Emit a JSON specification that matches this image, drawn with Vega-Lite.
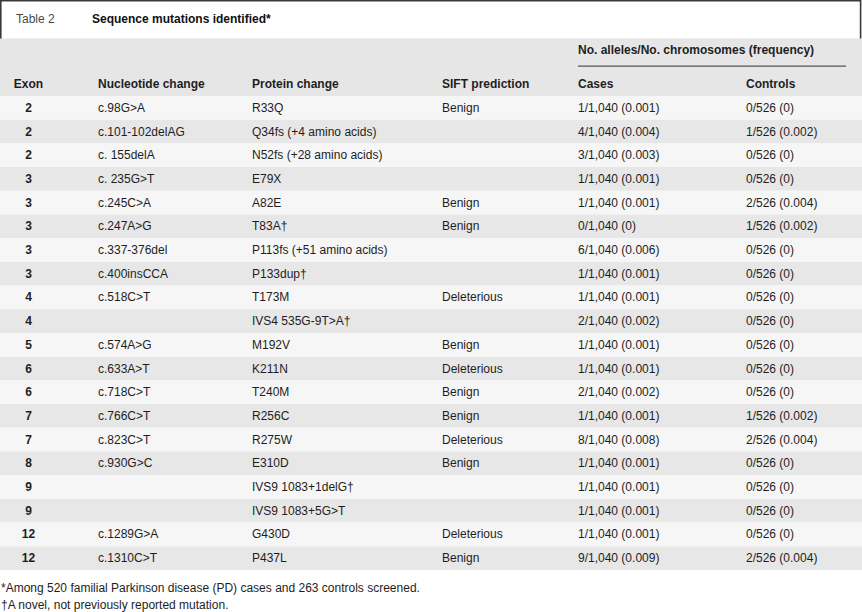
{
  "$schema": "https://vega.github.io/schema/vega-lite/v6.json",
  "width": 862,
  "height": 612,
  "padding": 0,
  "autosize": {"type": "none"},
  "background": "white",
  "config": {
    "view": {"stroke": null},
    "text": {"font": "Liberation Sans", "fontSize": 12, "color": "#1e1e1e", "baseline": "middle"}
  },
  "datasets": {
    "title": [{"sec": "title", "label": "Table 2", "caption": "Sequence mutations identified*"}],
    "group": [{"sec": "group", "label": "No. alleles/No. chromosomes (frequency)"}],
    "notes": [
      {"sec": "notes", "n": 1, "text": "*Among 520 familial Parkinson disease (PD) cases and 263 controls screened."},
      {"sec": "notes", "n": 2, "text": "†A novel, not previously reported mutation."}
    ],
    "rows": [
      {"row": 0, "exon": "Exon", "nuc": "Nucleotide change", "prot": "Protein change", "sift": "SIFT prediction", "cases": "Cases", "controls": "Controls"},
      {"row": 1, "exon": "2", "nuc": "c.98G>A", "prot": "R33Q", "sift": "Benign", "cases": "1/1,040 (0.001)", "controls": "0/526 (0)"},
      {"row": 2, "exon": "2", "nuc": "c.101-102delAG", "prot": "Q34fs (+4 amino acids)", "sift": "", "cases": "4/1,040 (0.004)", "controls": "1/526 (0.002)"},
      {"row": 3, "exon": "2", "nuc": "c. 155delA", "prot": "N52fs (+28 amino acids)", "sift": "", "cases": "3/1,040 (0.003)", "controls": "0/526 (0)"},
      {"row": 4, "exon": "3", "nuc": "c. 235G>T", "prot": "E79X", "sift": "", "cases": "1/1,040 (0.001)", "controls": "0/526 (0)"},
      {"row": 5, "exon": "3", "nuc": "c.245C>A", "prot": "A82E", "sift": "Benign", "cases": "1/1,040 (0.001)", "controls": "2/526 (0.004)"},
      {"row": 6, "exon": "3", "nuc": "c.247A>G", "prot": "T83A†", "sift": "Benign", "cases": "0/1,040 (0)", "controls": "1/526 (0.002)"},
      {"row": 7, "exon": "3", "nuc": "c.337-376del", "prot": "P113fs (+51 amino acids)", "sift": "", "cases": "6/1,040 (0.006)", "controls": "0/526 (0)"},
      {"row": 8, "exon": "3", "nuc": "c.400insCCA", "prot": "P133dup†", "sift": "", "cases": "1/1,040 (0.001)", "controls": "0/526 (0)"},
      {"row": 9, "exon": "4", "nuc": "c.518C>T", "prot": "T173M", "sift": "Deleterious", "cases": "1/1,040 (0.001)", "controls": "0/526 (0)"},
      {"row": 10, "exon": "4", "nuc": "", "prot": "IVS4 535G-9T>A†", "sift": "", "cases": "2/1,040 (0.002)", "controls": "0/526 (0)"},
      {"row": 11, "exon": "5", "nuc": "c.574A>G", "prot": "M192V", "sift": "Benign", "cases": "1/1,040 (0.001)", "controls": "0/526 (0)"},
      {"row": 12, "exon": "6", "nuc": "c.633A>T", "prot": "K211N", "sift": "Deleterious", "cases": "1/1,040 (0.001)", "controls": "0/526 (0)"},
      {"row": 13, "exon": "6", "nuc": "c.718C>T", "prot": "T240M", "sift": "Benign", "cases": "2/1,040 (0.002)", "controls": "0/526 (0)"},
      {"row": 14, "exon": "7", "nuc": "c.766C>T", "prot": "R256C", "sift": "Benign", "cases": "1/1,040 (0.001)", "controls": "1/526 (0.002)"},
      {"row": 15, "exon": "7", "nuc": "c.823C>T", "prot": "R275W", "sift": "Deleterious", "cases": "8/1,040 (0.008)", "controls": "2/526 (0.004)"},
      {"row": 16, "exon": "8", "nuc": "c.930G>C", "prot": "E310D", "sift": "Benign", "cases": "1/1,040 (0.001)", "controls": "0/526 (0)"},
      {"row": 17, "exon": "9", "nuc": "", "prot": "IVS9 1083+1delG†", "sift": "", "cases": "1/1,040 (0.001)", "controls": "0/526 (0)"},
      {"row": 18, "exon": "9", "nuc": "", "prot": "IVS9 1083+5G>T", "sift": "", "cases": "1/1,040 (0.001)", "controls": "0/526 (0)"},
      {"row": 19, "exon": "12", "nuc": "c.1289G>A", "prot": "G430D", "sift": "Deleterious", "cases": "1/1,040 (0.001)", "controls": "0/526 (0)"},
      {"row": 20, "exon": "12", "nuc": "c.1310C>T", "prot": "P437L", "sift": "Benign", "cases": "9/1,040 (0.009)", "controls": "2/526 (0.004)"}
    ]
  },
  "layer": [
    {
      "data": {"name": "title"},
      "mark": {"type": "rect", "fill": "white", "stroke": "#3a3a3a", "strokeWidth": 1.6},
      "encoding": {
        "x": {"field": "sec", "type": "nominal", "axis": null, "scale": {"type": "band", "domain": ["title"], "range": [0.8, 860.6], "paddingInner": 0, "paddingOuter": 0}},
        "y": {"field": "sec", "type": "nominal", "axis": null, "scale": {"type": "band", "domain": ["title"], "range": [0.8, 40], "paddingInner": 0, "paddingOuter": 0}}
      }
    },
    {
      "data": {"name": "title"},
      "mark": {"type": "text", "align": "left", "color": "#4a4a4a"},
      "encoding": {
        "x": {"field": "sec", "type": "nominal", "axis": null, "bandPosition": 0, "scale": {"type": "band", "domain": ["title"], "range": [16, 860], "paddingInner": 0, "paddingOuter": 0}},
        "y": {"field": "sec", "type": "nominal", "axis": null, "scale": {"type": "band", "domain": ["title"], "range": [0, 38], "paddingInner": 0, "paddingOuter": 0}},
        "text": {"field": "label"}
      }
    },
    {
      "data": {"name": "title"},
      "mark": {"type": "text", "align": "left", "fontWeight": "bold", "color": "#111111"},
      "encoding": {
        "x": {"field": "sec", "type": "nominal", "axis": null, "bandPosition": 0, "scale": {"type": "band", "domain": ["title"], "range": [92, 860], "paddingInner": 0, "paddingOuter": 0}},
        "y": {"field": "sec", "type": "nominal", "axis": null, "scale": {"type": "band", "domain": ["title"], "range": [0, 38], "paddingInner": 0, "paddingOuter": 0}},
        "text": {"field": "caption"}
      }
    },
    {
      "data": {"name": "group"},
      "mark": {"type": "rect", "fill": "#e6e6e6"},
      "encoding": {
        "y": {"field": "sec", "type": "nominal", "axis": null, "scale": {"type": "band", "domain": ["group"], "range": [38.5, 96], "paddingInner": 0, "paddingOuter": 0}}
      }
    },
    {
      "data": {"name": "rows"},
      "transform": [{"filter": "datum.row > 0"}],
      "mark": {"type": "rect"},
      "encoding": {
        "y": {"field": "row", "type": "ordinal", "axis": null, "scale": {"type": "band", "domain": [0,1,2,3,4,5,6,7,8,9,10,11,12,13,14,15,16,17,18,19,20], "range": [72.3, 570], "paddingInner": 0, "paddingOuter": 0}},
        "color": {"condition": {"test": "datum.row % 2 === 1", "value": "#f6f6f6"}, "value": "#e7e7e7"}
      }
    },
    {
      "data": {"name": "group"},
      "mark": {"type": "rect", "fill": "#555555"},
      "encoding": {
        "x": {"field": "sec", "type": "nominal", "axis": null, "scale": {"type": "band", "domain": ["group"], "range": [578, 846], "paddingInner": 0, "paddingOuter": 0}},
        "y": {"field": "sec", "type": "nominal", "axis": null, "scale": {"type": "band", "domain": ["group"], "range": [65.4, 66.7], "paddingInner": 0, "paddingOuter": 0}}
      }
    },
    {
      "data": {"name": "group"},
      "mark": {"type": "text", "align": "left", "fontWeight": "bold"},
      "encoding": {
        "x": {"field": "sec", "type": "nominal", "axis": null, "bandPosition": 0, "scale": {"type": "band", "domain": ["group"], "range": [578, 862], "paddingInner": 0, "paddingOuter": 0}},
        "y": {"field": "sec", "type": "nominal", "axis": null, "scale": {"type": "band", "domain": ["group"], "range": [37, 63], "paddingInner": 0, "paddingOuter": 0}},
        "text": {"field": "label"}
      }
    },
    {
      "data": {"name": "rows"},
      "transform": [{"fold": ["exon"], "as": ["key", "value"]}],
      "mark": {"type": "text", "align": "center", "fontWeight": "bold"},
      "encoding": {
        "x": {"field": "key", "type": "nominal", "axis": null, "scale": {"type": "band", "domain": ["exon"], "range": [16, 41], "paddingInner": 0, "paddingOuter": 0}},
        "y": {"field": "row", "type": "ordinal", "axis": null, "scale": {"type": "band", "domain": [0,1,2,3,4,5,6,7,8,9,10,11,12,13,14,15,16,17,18,19,20], "range": [72.3, 570], "paddingInner": 0, "paddingOuter": 0}},
        "text": {"field": "value"}
      }
    },
    {
      "data": {"name": "rows"},
      "transform": [{"fold": ["nuc"], "as": ["key", "value"]}],
      "encoding": {
        "x": {"field": "key", "type": "nominal", "axis": null, "bandPosition": 0, "scale": {"type": "band", "domain": ["nuc"], "range": [98, 252], "paddingInner": 0, "paddingOuter": 0}},
        "y": {"field": "row", "type": "ordinal", "axis": null, "scale": {"type": "band", "domain": [0,1,2,3,4,5,6,7,8,9,10,11,12,13,14,15,16,17,18,19,20], "range": [72.3, 570], "paddingInner": 0, "paddingOuter": 0}},
        "text": {"field": "value"}
      },
      "layer": [
        {"transform": [{"filter": "datum.row === 0"}], "mark": {"type": "text", "align": "left", "fontWeight": "bold"}},
        {"transform": [{"filter": "datum.row > 0"}], "mark": {"type": "text", "align": "left"}}
      ]
    },
    {
      "data": {"name": "rows"},
      "transform": [{"fold": ["prot"], "as": ["key", "value"]}],
      "encoding": {
        "x": {"field": "key", "type": "nominal", "axis": null, "bandPosition": 0, "scale": {"type": "band", "domain": ["prot"], "range": [252, 442], "paddingInner": 0, "paddingOuter": 0}},
        "y": {"field": "row", "type": "ordinal", "axis": null, "scale": {"type": "band", "domain": [0,1,2,3,4,5,6,7,8,9,10,11,12,13,14,15,16,17,18,19,20], "range": [72.3, 570], "paddingInner": 0, "paddingOuter": 0}},
        "text": {"field": "value"}
      },
      "layer": [
        {"transform": [{"filter": "datum.row === 0"}], "mark": {"type": "text", "align": "left", "fontWeight": "bold"}},
        {"transform": [{"filter": "datum.row > 0"}], "mark": {"type": "text", "align": "left"}}
      ]
    },
    {
      "data": {"name": "rows"},
      "transform": [{"fold": ["sift"], "as": ["key", "value"]}],
      "encoding": {
        "x": {"field": "key", "type": "nominal", "axis": null, "bandPosition": 0, "scale": {"type": "band", "domain": ["sift"], "range": [442, 578], "paddingInner": 0, "paddingOuter": 0}},
        "y": {"field": "row", "type": "ordinal", "axis": null, "scale": {"type": "band", "domain": [0,1,2,3,4,5,6,7,8,9,10,11,12,13,14,15,16,17,18,19,20], "range": [72.3, 570], "paddingInner": 0, "paddingOuter": 0}},
        "text": {"field": "value"}
      },
      "layer": [
        {"transform": [{"filter": "datum.row === 0"}], "mark": {"type": "text", "align": "left", "fontWeight": "bold"}},
        {"transform": [{"filter": "datum.row > 0"}], "mark": {"type": "text", "align": "left"}}
      ]
    },
    {
      "data": {"name": "rows"},
      "transform": [{"fold": ["cases"], "as": ["key", "value"]}],
      "encoding": {
        "x": {"field": "key", "type": "nominal", "axis": null, "bandPosition": 0, "scale": {"type": "band", "domain": ["cases"], "range": [578, 746], "paddingInner": 0, "paddingOuter": 0}},
        "y": {"field": "row", "type": "ordinal", "axis": null, "scale": {"type": "band", "domain": [0,1,2,3,4,5,6,7,8,9,10,11,12,13,14,15,16,17,18,19,20], "range": [72.3, 570], "paddingInner": 0, "paddingOuter": 0}},
        "text": {"field": "value"}
      },
      "layer": [
        {"transform": [{"filter": "datum.row === 0"}], "mark": {"type": "text", "align": "left", "fontWeight": "bold"}},
        {"transform": [{"filter": "datum.row > 0"}], "mark": {"type": "text", "align": "left"}}
      ]
    },
    {
      "data": {"name": "rows"},
      "transform": [{"fold": ["controls"], "as": ["key", "value"]}],
      "encoding": {
        "x": {"field": "key", "type": "nominal", "axis": null, "bandPosition": 0, "scale": {"type": "band", "domain": ["controls"], "range": [746, 862], "paddingInner": 0, "paddingOuter": 0}},
        "y": {"field": "row", "type": "ordinal", "axis": null, "scale": {"type": "band", "domain": [0,1,2,3,4,5,6,7,8,9,10,11,12,13,14,15,16,17,18,19,20], "range": [72.3, 570], "paddingInner": 0, "paddingOuter": 0}},
        "text": {"field": "value"}
      },
      "layer": [
        {"transform": [{"filter": "datum.row === 0"}], "mark": {"type": "text", "align": "left", "fontWeight": "bold"}},
        {"transform": [{"filter": "datum.row > 0"}], "mark": {"type": "text", "align": "left"}}
      ]
    },
    {
      "data": {"name": "notes"},
      "mark": {"type": "text", "align": "left"},
      "encoding": {
        "x": {"field": "sec", "type": "nominal", "axis": null, "bandPosition": 0, "scale": {"type": "band", "domain": ["notes"], "range": [1, 862], "paddingInner": 0, "paddingOuter": 0}},
        "y": {"field": "n", "type": "ordinal", "axis": null, "scale": {"type": "band", "domain": [1, 2], "range": [579, 613], "paddingInner": 0, "paddingOuter": 0}},
        "text": {"field": "text"}
      }
    }
  ],
  "resolve": {"scale": {"x": "independent", "y": "independent"}}
}
